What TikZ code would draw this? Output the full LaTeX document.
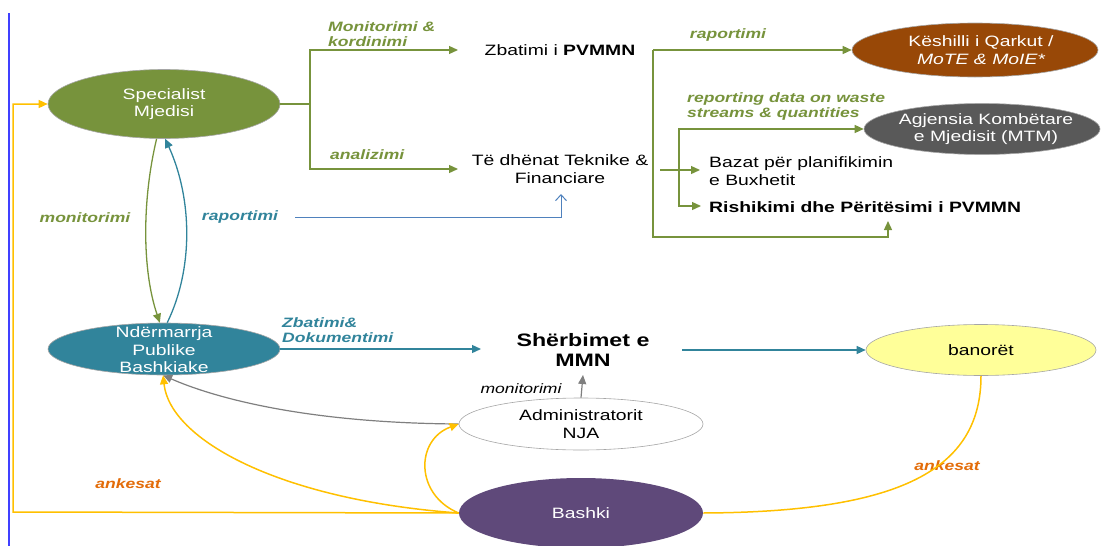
\documentclass[tikz,border=0pt]{standalone}
\usepackage{fontspec}
\setmainfont{Liberation Sans}[FakeStretch=1.29]
\usetikzlibrary{shapes.geometric,arrows.meta}
\definecolor{cgreen}{HTML}{77933C}
\definecolor{cteal}{HTML}{31849B}
\definecolor{cblue}{HTML}{4F81BD}
\definecolor{cyellow}{HTML}{FFC000}
\definecolor{corange}{HTML}{E36C09}
\definecolor{cpurple}{HTML}{5F497A}
\definecolor{cbrown}{HTML}{984807}
\definecolor{cdgrey}{HTML}{595959}
\definecolor{cpale}{HTML}{FFFF99}
\definecolor{cleft}{HTML}{4040FF}
\definecolor{cgreyline}{HTML}{7F7F7F}
\begin{document}
\begin{tikzpicture}[x=1pt,y=-1pt,
  blob/.style={ellipse, draw=gray!70, line width=0.6pt, inner sep=0pt},
  ntext/.style={font=\fontsize{15}{17.5}\selectfont, align=center, inner sep=0pt},
  bigtext/.style={font=\fontsize{18}{20.5}\selectfont\bfseries, align=center, inner sep=0pt},
  lbl/.style={font=\fontsize{13.6}{15}\selectfont\bfseries\itshape, align=left, inner sep=0pt},
  tip/.style={-{Triangle[length=9pt,width=8pt]}},
  gline/.style={draw=cgreen, line width=1.3pt},
  tline/.style={draw=cteal, line width=1.3pt},
  yline/.style={draw=cyellow, line width=1.5pt},
  greyline/.style={draw=cgreyline, line width=1.2pt},
  bline/.style={draw=cblue, line width=1pt},
]
\useasboundingbox (0,0) rectangle (1101,546);

% left border line
\draw[draw=cleft, line width=1.4pt] (9,13) -- (9,546);

% ellipses
\node[blob, fill=cgreen, minimum width=232pt, minimum height=69pt] (spec) at (164,104) {};
\node[ntext, text=white] (spect) at (spec) {Specialist\\Mjedisi};
\node[blob, fill=cteal, minimum width=232pt, minimum height=52pt] (npb) at (164,349) {};
\node[ntext, text=white] (npbt) at (164,350) {Ndërmarrja\\Publike\\Bashkiake};
\node[blob, fill=cbrown, minimum width=246pt, minimum height=54pt] (kq) at (975,50) {};
\node[ntext, text=white] (kqt) at (981,50) {Këshilli i Qarkut /\\\itshape MoTE \& MoIE*};
\node[blob, fill=cdgrey, minimum width=236pt, minimum height=51pt] (ak) at (982,129) {};
\node[ntext, text=white] (akt) at (986,129) {Agjensia Kombëtare\\e Mjedisit (MTM)};
\node[blob, fill=cpale, minimum width=230pt, minimum height=51pt] (bn) at (981,350) {};
\node[ntext] (bnt) at (bn) {banorët};
\node[blob, fill=white, minimum width=244pt, minimum height=52pt] (adm) at (581,424) {};
\node[ntext] (admt) at (adm) {Administratorit\\NJA};
\node[blob, fill=cpurple, draw=none, minimum width=244pt, minimum height=70pt] (bk) at (581,513) {};
\node[ntext, text=white] (bkt) at (bk) {Bashki};

% text nodes
\node[ntext] (zb) at (560,50) {Zbatimi i \textbf{PVMMN}};
\node[ntext] (td) at (560,169) {Të dhënat Teknike \&\\Financiare};
\node[ntext, align=left, anchor=west] (baz) at (709,171) {Bazat për planifikimin\\e Buxhetit};
\node[ntext, anchor=west, font=\fontsize{15}{17.5}\selectfont\bfseries] (rish) at (709,207) {Rishikimi dhe Përitësimi i PVMMN};
\node[bigtext] (sh) at (583,350) {Shërbimet e\\MMN};

% labels
\node[lbl, text=cgreen, anchor=west] (l1) at (328,34) {Monitorimi \&\\kordinimi};
\node[lbl, text=cgreen, anchor=west] (l2) at (330,155) {analizimi};
\node[lbl, text=cgreen] (l3) at (85,218) {monitorimi};
\node[lbl, text=cteal] (l4) at (240,217) {raportimi};
\node[lbl, text=cgreen] (l5) at (728,35) {raportimi};
\node[lbl, text=cgreen, anchor=west] (l6) at (687,106) {reporting data on waste\\streams \& quantities};
\node[lbl, text=cteal, anchor=west] (l7) at (282,330) {Zbatimi\&\\Dokumentimi};
\node[lbl, font=\fontsize{13.6}{15}\selectfont\itshape] (l8) at (521,389) {monitorimi};
\node[lbl, text=corange] (l9) at (128,484) {ankesat};
\node[lbl, text=corange] (l10) at (947,466) {ankesat};

% coordinates
\coordinate (j1) at (310,104);
\coordinate (zbin) at (458,50);
\coordinate (tdin) at (458,169);
\coordinate (c1) at (653,50);
\coordinate (c2) at (888,237);
\coordinate (rishin) at (888,221);
\coordinate (tdout) at (660,170);
\coordinate (bazin) at (700,170);
\coordinate (j3) at (679,206);
\coordinate (j4) at (679,170);
\coordinate (rishw) at (701,206);
\coordinate (b1) at (295,217);
\coordinate (tdbot) at (561,194);
\coordinate (shin) at (481,349);
\coordinate (shout) at (682,350);
\coordinate (shbot) at (583,375);
\coordinate (y1) at (13,512);
\coordinate (y2) at (13,104);

% green tree
\draw[gline] (spec.east) -- (j1);
\draw[gline, tip] (j1) |- (zbin);
\draw[gline, tip] (j1) |- (tdin);
\draw[gline, tip] (c1) -- (kq.west);
\draw[gline, tip] (c1) |- (c2) -- (rishin);
\draw[gline, tip] (tdout) -- (bazin);
\draw[gline, tip] (j3) |- (ak.west);
\draw[gline, tip] (j4) |- (rishw);

% blue raportimi
\draw[bline, -{Straight Barb[length=6pt,width=11pt]}] (b1) -| (tdbot);

% specialist <-> npb
\draw[gline, tip] (spec.258) .. controls (142,200) and (142,270) .. (npb.99);
\draw[tline, tip] (npb.83) .. controls (193,270) and (193,200) .. (spec.272);

% teal arrows
\draw[tline, tip] (npb.east) -- (shin);
\draw[tline, tip] (shout) -- (bn.west);

% grey arrows
\draw[greyline, tip] (adm.north) -- (shbot);
\draw[greyline, tip] (adm.west) .. controls (300,423) and (210,396) .. (npb.268);

% yellow
\draw[yline, tip] (bk.west) .. controls (280,500) and (170,440) .. (npb.268);
\draw[yline, tip] (bk.west) .. controls (415,495) and (415,440) .. (adm.west);
\draw[yline, tip] (bk.west) -- (y1) -- (y2) -- (spec.west);
\draw[yline] (bk.east) .. controls (900,512) and (981,470) .. (bn.south);

\end{tikzpicture}
\end{document}
